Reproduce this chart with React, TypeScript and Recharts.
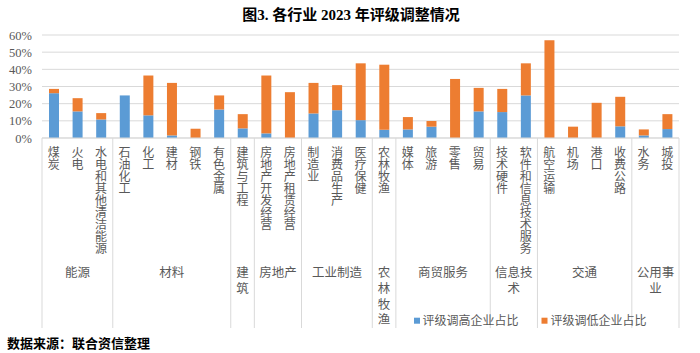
import React from 'react';
import { BarChart, Bar, XAxis, YAxis, CartesianGrid } from 'recharts';

const categories = ['煤炭', '火电', '水电和其他清洁能源', '石油化工', '化工', '建材', '钢铁', '有色金属', '建筑与工程', '房地产开发经营', '房地产租赁经营', '制造业', '消费品生产', '医疗保健', '农林牧渔', '媒体', '旅游', '零售', '贸易', '技术硬件', '软件和信息技术服务', '航空运输', '机场', '港口', '收费公路', '水务', '城投'];
const groupNames = ['能源', '材料', '建筑', '房地产', '工业制造', '农林牧渔', '商贸服务', '信息技术', '交通', '公用事业'];
const groupSizes = [3, 5, 1, 2, 3, 1, 4, 2, 4, 2];
const upShare = [26.1, 15.5, 10.8, 24.8, 13.2, 1.5, 0, 16.6, 5.6, 2.7, 0, 14.3, 16.2, 10.4, 4.8, 5.0, 6.6, 0, 15.5, 15.1, 24.8, 0, 0, 0, 6.8, 1.5, 5.2];
const downShare = [2.5, 7.7, 3.7, 0, 23.2, 30.6, 5.4, 8.2, 8.3, 33.7, 26.7, 17.8, 14.6, 33.1, 37.9, 7.2, 3.3, 34.4, 13.7, 13.5, 18.7, 56.9, 6.6, 20.5, 17.2, 3.5, 8.7];
const yTicks = [0, 10, 20, 30, 40, 50, 60];
const seriesNames = ['评级调高企业占比', '评级调低企业占比'];
const titleText = '图3. 各行业 2023 年评级调整情况';
const sourceText = '数据来源：联合资信整理';

const BLUE = '#5B9BD5';
const ORANGE = '#ED7D31';
const GRID = '#D9D9D9';
const TEXT = '#595959';

const W = 700;
const H = 353;
const PLOT_LEFT = 42;
const PLOT_RIGHT = 679;
const PLOT_TOP = 35;
const PLOT_BOTTOM = 138;
const SEP_BOTTOM = 328;
const STEP = (PLOT_RIGHT - PLOT_LEFT) / categories.length;
const CJK = '"Noto Sans CJK SC", "Noto Sans", sans-serif';
const VERTICAL: any = { writingMode: 'vertical-rl', textOrientation: 'upright' };

const data = categories.map((name, i) => ({ name, up: upShare[i], down: downShare[i] }));

const groupStart: Record<number, number> = {};
{
  let idx = 0;
  groupSizes.forEach((s, g) => {
    groupStart[idx] = g;
    idx += s;
  });
}

const CategoryTick = (props: any) => {
  const { x, payload } = props;
  const i: number = payload.index;
  const name = categories[i] ?? String(payload.value);
  const els: any[] = [];
  els.push(
    <text key="cat" x={x} y={146.5} fontSize={12} fill={TEXT} fontFamily={CJK} style={VERTICAL}>
      {name}
    </text>
  );
  if (groupStart[i] !== undefined) {
    const g = groupStart[i];
    const left = x - STEP / 2;
    const width = groupSizes[g] * STEP;
    els.push(<line key="sepL" x1={left} x2={left} y1={PLOT_BOTTOM} y2={SEP_BOTTOM} stroke={GRID} strokeWidth={1} />);
    const cx = left + width / 2;
    if (groupSizes[g] === 1) {
      els.push(
        <text key="grp" x={cx} y={266} fontSize={12.5} fill={TEXT} fontFamily={CJK} letterSpacing={3.3} style={VERTICAL}>
          {groupNames[g]}
        </text>
      );
    } else {
      els.push(
        <foreignObject key="grp" x={left} y={264} width={width} height={50}>
          <div
            style={{
              width: width,
              textAlign: 'center',
              fontSize: 12.5,
              lineHeight: '15.8px',
              color: TEXT,
              fontFamily: CJK,
              wordBreak: 'break-all',
              margin: 0,
              padding: 0,
            }}
          >
            {groupNames[g]}
          </div>
        </foreignObject>
      );
    }
  }
  if (i === categories.length - 1) {
    const right = x + STEP / 2;
    els.push(<line key="sepR" x1={right} x2={right} y1={PLOT_BOTTOM} y2={SEP_BOTTOM} stroke={GRID} strokeWidth={1} />);
  }
  return <g>{els}</g>;
};

const PercentTick = (props: any) => {
  const { y, payload } = props;
  return (
    <text x={32} y={y + 4.5} textAnchor="end" fontSize={12.5} fill={TEXT} fontFamily='"Liberation Serif", serif'>
      {`${payload.value}%`}
    </text>
  );
};

export default function App() {
  return (
    <div style={{ position: 'absolute', left: 0, top: 0, width: W, height: H, background: '#fff' }}>
      <BarChart width={W} height={H} data={data} margin={{ top: PLOT_TOP, right: W - PLOT_RIGHT, left: 0, bottom: 0 }} barCategoryGap={0}>
        <CartesianGrid vertical={false} stroke={GRID} strokeWidth={1} />
        <XAxis
          dataKey="name"
          interval={0}
          height={H - PLOT_BOTTOM}
          tickLine={false}
          axisLine={{ stroke: GRID }}
          tick={<CategoryTick />}
        />
        <YAxis
          width={PLOT_LEFT}
          domain={[0, 60]}
          ticks={yTicks}
          interval={0}
          axisLine={false}
          tickLine={false}
          tick={<PercentTick />}
        />
        <Bar dataKey="up" stackId="a" fill={BLUE} barSize={10} isAnimationActive={false} name={seriesNames[0]} />
        <Bar dataKey="down" stackId="a" fill={ORANGE} barSize={10} isAnimationActive={false} name={seriesNames[1]} />
      </BarChart>
      <svg width={W} height={H} style={{ position: 'absolute', left: 0, top: 0, pointerEvents: 'none' }}>
        <text x={351} y={19.7} textAnchor="middle" fontSize={15} fontWeight="bold" fill="#000" fontFamily='"Liberation Serif", "Noto Sans CJK SC", serif'>
          {titleText}
        </text>
        <rect x={414} y={317.7} width={6} height={6} fill={BLUE} />
        <text x={422.5} y={325.3} fontSize={12} fill={TEXT} fontFamily={CJK}>{seriesNames[0]}</text>
        <rect x={541.5} y={317.7} width={6} height={6} fill={ORANGE} />
        <text x={550.5} y={325.3} fontSize={12} fill={TEXT} fontFamily={CJK}>{seriesNames[1]}</text>
        <text x={7} y={347.6} fontSize={13} fontWeight="bold" fill="#000" fontFamily={CJK}>{sourceText}</text>
      </svg>
    </div>
  );
}
